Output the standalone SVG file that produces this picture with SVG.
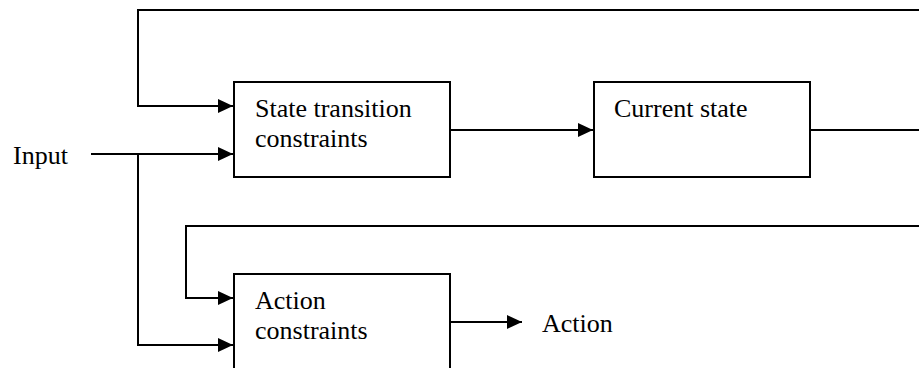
<svg xmlns="http://www.w3.org/2000/svg" width="919" height="368" viewBox="0 0 919 368">
  <style>
    .box { fill: #fff; stroke: #000; stroke-width: 2; }
    .wire { fill: none; stroke: #000; stroke-width: 2; }
    .lbl { font-family: "Liberation Serif", "Times New Roman", serif; font-size: 26px; fill: #000; }
  </style>
  <defs>
    <marker id="arrow" markerUnits="userSpaceOnUse" markerWidth="16" markerHeight="16" refX="15" refY="7" orient="auto">
      <path d="M0,0 L15,7 L0,14 Z" fill="#000"/>
    </marker>
  </defs>
  <rect width="919" height="368" fill="#fff"/>

  <g id="connectors">
    <!-- feedback of current state into the transition block -->
    <path class="wire" d="M919,10 H138 V106 H233" marker-end="url(#arrow)"/>
    <!-- input into the transition block -->
    <path class="wire" d="M91,154 H233" marker-end="url(#arrow)"/>
    <!-- input branch down to the action block -->
    <path class="wire" d="M138,154 V345 H233" marker-end="url(#arrow)"/>
    <!-- transition block to current state -->
    <path class="wire" d="M450,130 H593" marker-end="url(#arrow)"/>
    <!-- current state output -->
    <path class="wire" d="M810,130 H919"/>
    <!-- state feedback into the action block -->
    <path class="wire" d="M919,226 H186 V298 H233" marker-end="url(#arrow)"/>
    <!-- action output -->
    <path class="wire" d="M450,322 H522" marker-end="url(#arrow)"/>
  </g>

  <g id="input">
    <text class="lbl" x="13" y="164">Input</text>
  </g>

  <g id="state-transition-constraints">
    <rect class="box" x="234" y="82" width="216" height="95"/>
    <text class="lbl" x="255" y="117">State transition</text>
    <text class="lbl" x="255" y="147">constraints</text>
  </g>

  <g id="current-state">
    <rect class="box" x="594" y="82" width="216" height="95"/>
    <text class="lbl" x="614" y="117">Current state</text>
  </g>

  <g id="action-constraints">
    <rect class="box" x="234" y="274" width="216" height="110"/>
    <text class="lbl" x="255" y="309">Action</text>
    <text class="lbl" x="255" y="339">constraints</text>
  </g>

  <g id="action">
    <text class="lbl" x="542" y="332">Action</text>
  </g>
</svg>
